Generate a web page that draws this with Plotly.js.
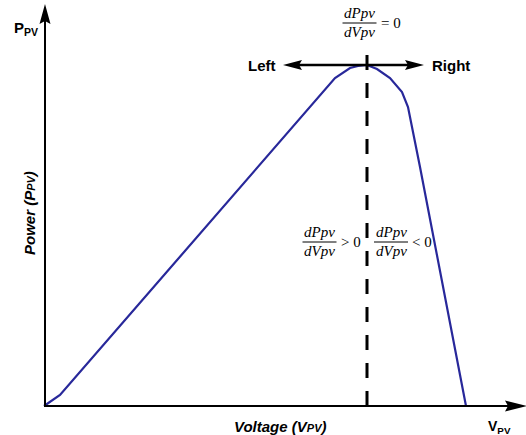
<!DOCTYPE html>
<html>
<head>
<meta charset="utf-8">
<script src="https://cdn.plot.ly/plotly-3.0.1.min.js"></script>
<style>html,body{margin:0;padding:0;background:#fff;}#chart{width:526px;height:435px;}</style>
</head>
<body>
<div id="chart"></div>
<script>
// P-V curve of a PV module (arbitrary units)
const voltage = [0, 0.8, 14.55, 15.3, 15.7, 16.15, 16.65, 17.3, 17.9, 18.2, 18.8, 21.1];
const power   = [0, 2.75, 82, 84.5, 85, 85.25, 84.25, 82, 78.5, 74.75, 59.75, 0];

const W = 526, H = 435;
const X0 = 44, Y0 = 406, XS = 20, YS = 4; // pixel mapping of data origin and scales
const fx = px => px / W;
const fy = py => 1 - py / H;
const dataToPx = (v, p) => [X0 + v * XS, Y0 - p * YS];

// peak
let iMax = 0;
for (let i = 1; i < power.length; i++) if (power[i] > power[iMax]) iMax = i;
const [pkX, pkY] = dataToPx(voltage[iMax], power[iMax]);

function head(tx, ty, dx, dy, L, w, n) {
  const bx = tx - L * dx, by = ty - L * dy;
  const px = -dy, py = dx;
  const pts = [[tx, ty], [bx + w * px, by + w * py], [tx - (L - n) * dx, ty - (L - n) * dy], [bx - w * px, by - w * py]];
  return {type: 'path', xref: 'paper', yref: 'paper',
    path: 'M' + pts.map(p => fx(p[0]).toFixed(5) + ',' + fy(p[1]).toFixed(5)).join(' L') + ' Z',
    fillcolor: '#000', line: {width: 0}};
}
function seg(x0, y0, x1, y1, w, dash) {
  return {type: 'line', xref: 'paper', yref: 'paper', x0: fx(x0), y0: fy(y0), x1: fx(x1), y1: fy(y1),
    line: {color: '#000', width: w, dash: dash || 'solid'}};
}

const shapes = [
  // axes
  seg(X0 + 1, Y0, X0 + 1, 14, 2),
  head(X0 + 1, 4, 0, -1, 20, 5.5, 3),
  seg(X0, Y0, 515, Y0, 2),
  head(527, Y0, 1, 0, 22, 5.5, 3),
  // dashed MPP line
  seg(pkX, Y0, pkX, 50, 3, '15px,13px'),
  // Left / Right arrow
  seg(295, pkY, 415, pkY, 2.5),
  head(283, pkY, -1, 0, 19, 5, 3),
  head(424, pkY, 1, 0, 19, 5, 3),
];

const serif = 'Liberation Serif, Times New Roman, serif';
const sans = 'Liberation Sans, Arial, sans-serif';
const ann = [];
function txt(text, x, y, size, family, opts) {
  ann.push(Object.assign({text: text, x: fx(x), y: fy(y), xref: 'paper', yref: 'paper', showarrow: false,
    xanchor: 'center', yanchor: 'middle', font: {size: size, family: family, color: '#000'}}, opts || {}));
}
function frac(cx, cy, rel) {
  txt('<i>dPpv</i>', cx, cy - 10, 15, serif);
  txt('<i>dVpv</i>', cx, cy + 9, 15, serif);
  shapes.push(seg(cx - 17, cy, cx + 17, cy, 1));
  txt(rel, cx + 19, cy, 15, serif, {xanchor: 'left'});
}
frac(359.5, 23, '= 0');
frac(319.5, 242, '&gt; 0');
frac(391, 242, '&lt; 0');

txt('<b>P<sub>PV</sub></b>', 12, 29, 15, sans, {xanchor: 'left'});
txt('<b>V<sub>PV</sub></b>', 486, 427, 14, sans, {xanchor: 'left'});
txt('<b><i>Power (P<span style="font-size:11px">PV</span>)</i></b>', 29, 213, 15, sans, {textangle: -90});
txt('<b><i>Voltage (V<span style="font-size:11px">PV</span>)</i></b>', 280, 426, 15, sans);
txt('<b>Left</b>', 262, pkY, 15, sans);
txt('<b>Right</b>', 451, pkY, 15, sans);

const trace = {x: voltage, y: power, type: 'scatter', mode: 'lines',
  line: {color: '#28289a', width: 2.2}, hoverinfo: 'skip'};

const layout = {
  width: W, height: H, autosize: false,
  margin: {l: 0, r: 0, t: 0, b: 0, pad: 0},
  paper_bgcolor: '#fff', plot_bgcolor: '#fff', showlegend: false,
  xaxis: {range: [-X0 / XS, (W - X0) / XS], visible: false, fixedrange: true},
  yaxis: {range: [-(H - Y0) / YS, Y0 / YS], visible: false, fixedrange: true},
  shapes: shapes, annotations: ann
};
Plotly.newPlot('chart', [trace], layout, {staticPlot: true, displayModeBar: false});
</script>
</body>
</html>
